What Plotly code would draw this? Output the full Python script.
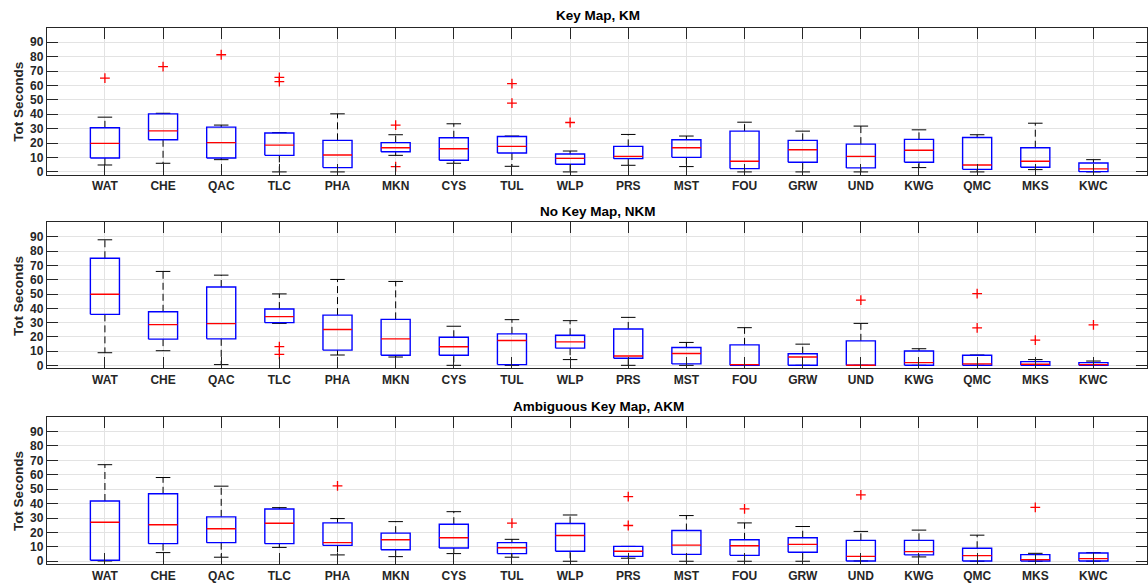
import plotly.graph_objects as go

categories = ["WAT", "CHE", "QAC", "TLC", "PHA", "MKN", "CYS", "TUL", "WLP",
              "PRS", "MST", "FOU", "GRW", "UND", "KWG", "QMC", "MKS", "KWC"]
y_ticks = [0, 10, 20, 30, 40, 50, 60, 70, 80, 90]

# ---- Key Map, KM ----
km_lower = [4.8, 6, 8.5, 0, 0, 11.5, 6, 3.9, 0, 4.6, 3.7, 0, 0, 0, 3, 0, 1.6, 0]
km_q1 = [9.7, 22.3, 9.7, 11.5, 3, 14, 8.1, 13.1, 5.3, 9.2, 10.1, 2.3, 6.7, 2.8, 6.7, 1.8, 3.2, 0.2]
km_med = [19.8, 28.5, 20.3, 18.6, 11.7, 16.8, 16.1, 17.7, 9.4, 10.8, 16.8, 7.4, 15.4, 10.8, 15, 4.8, 7.4, 2.1]
km_q3 = [30.6, 40.3, 31.1, 27, 21.9, 20.3, 23.7, 24.6, 12.4, 17.7, 22.3, 28.3, 21.9, 19.3, 22.6, 23.9, 16.8, 6.2]
km_upper = [38, 40.7, 32.5, 27.3, 40.3, 25.8, 33.4, 24.9, 14.5, 26, 24.9, 34.5, 28.3, 31.8, 29.2, 25.8, 33.8, 8.5]
km_out_cat = ["WAT", "CHE", "QAC", "TLC", "TLC", "MKN", "MKN", "TUL", "TUL", "WLP"]
km_out_val = [65.1, 73, 81.3, 65.6, 62.6, 32.5, 3.7, 61.2, 47.7, 34.3]

# ---- No Key Map, NKM ----
nkm_lower = [9, 10.4, 0.7, 29.5, 7.4, 6, 0.2, 0.2, 4.2, 0.2, 0.2, 0.2, 0.2, 0.2, 0.2, 0.2, 0.2, 0.2]
nkm_q1 = [35.8, 18.5, 18.7, 30, 10.8, 7.2, 7.2, 0.7, 12.2, 5.1, 1.2, 0.2, 0.2, 0.2, 0.2, 0.2, 0.2, 0.2]
nkm_med = [49.8, 28.6, 29.3, 34.2, 25.2, 18.7, 13.2, 17.5, 16.6, 6.7, 8.5, 0.7, 6, 0.2, 2.1, 1.2, 0.9, 0.7]
nkm_q3 = [75, 37.6, 54.9, 39.5, 35.3, 32.3, 19.8, 22.2, 21.2, 25.6, 12.7, 14.5, 8.3, 17.3, 10.2, 7.2, 2.8, 2.1]
nkm_upper = [87.9, 65.8, 63.2, 50.1, 60.2, 58.8, 27.5, 32.1, 31.4, 33.7, 16.2, 26.5, 15, 29.5, 11.8, 7.4, 4.2, 3.2]
nkm_out_cat = ["TLC", "TLC", "UND", "QMC", "QMC", "MKS", "KWC"]
nkm_out_val = [13.2, 7.8, 45.7, 50.3, 26.3, 17.8, 28.4]

# ---- Ambiguous Key Map, AKM ----
akm_lower = [0.2, 6, 2.8, 9.6, 4.4, 3.2, 5.3, 2.8, 0, 2.1, 0, 0, 0, 0.2, 3, 0, 0, 0]
akm_q1 = [0.7, 12.2, 12.9, 12.2, 11, 8, 9.2, 5.3, 6.9, 3.4, 4.8, 4.1, 6.2, 0.2, 4.4, 0.2, 0.2, 0.2]
akm_med = [27.1, 25.3, 22.5, 26.4, 12.9, 14.9, 16.3, 9.4, 17.9, 6.9, 11.2, 10.8, 11.7, 3.4, 6.7, 3.9, 1.1, 1.8]
akm_q3 = [41.8, 46.8, 30.8, 36.3, 26.6, 19.5, 25.7, 12.9, 26.2, 10.3, 21.3, 14.9, 16.3, 14.5, 14.5, 9, 4.6, 5.7]
akm_upper = [67, 58.1, 52.1, 37.2, 29.6, 27.5, 34.4, 15.2, 32.1, 10.3, 31.7, 26.6, 24.1, 20.7, 21.6, 18.1, 5.5, 6]
akm_out_cat = ["PHA", "TUL", "PRS", "PRS", "FOU", "UND", "MKS"]
akm_out_val = [52.3, 26.4, 44.8, 24.8, 36.3, 46.1, 37.4]

panel_titles = ["Key Map, KM", "No Key Map, NKM", "Ambiguous Key Map, AKM"]
y_title = "Tot Seconds"

panels = [
    (km_lower, km_q1, km_med, km_q3, km_upper, km_out_cat, km_out_val),
    (nkm_lower, nkm_q1, nkm_med, nkm_q3, nkm_upper, nkm_out_cat, nkm_out_val),
    (akm_lower, akm_q1, akm_med, akm_q3, akm_upper, akm_out_cat, akm_out_val),
]

# ---- layout geometry (pixels) ----
W, H = 1148, 587
x_left_px = 46.8
px_per_cat = 58.2
x_range = [0, (W - x_left_px) / px_per_cat]
panel_px = [(28, 176), (224, 371), (420, 568)]
title_px = [16, 213, 409]
BOX_HALF = 0.25
CAP_HALF = 0.125

FONT = "Liberation Sans, Arial, Helvetica, sans-serif"
AX_COLOR = "#262626"
GRID_COLOR = "#e3e3e3"

fig = go.Figure()
pos = {c: i + 1 for i, c in enumerate(categories)}

for p, (lo, q1, md, q3, up, oc, ov) in enumerate(panels):
    xa = "x" if p == 0 else f"x{p+1}"
    ya = "y" if p == 0 else f"y{p+1}"
    wx, wy, cx, cy, bx, by, mx, my = [], [], [], [], [], [], [], []
    for i, c in enumerate(categories):
        x = pos[c]
        wx += [x, x, None, x, x, None]
        wy += [q3[i], up[i], None, q1[i], lo[i], None]
        cx += [x - CAP_HALF, x + CAP_HALF, None, x - CAP_HALF, x + CAP_HALF, None]
        cy += [up[i], up[i], None, lo[i], lo[i], None]
        bx += [x - BOX_HALF, x + BOX_HALF, x + BOX_HALF, x - BOX_HALF, x - BOX_HALF, None]
        by += [q1[i], q1[i], q3[i], q3[i], q1[i], None]
        mx += [x - BOX_HALF, x + BOX_HALF, None]
        my += [md[i], md[i], None]
    fig.add_trace(go.Scatter(x=wx, y=wy, mode="lines", xaxis=xa, yaxis=ya,
                             line=dict(color="black", width=1, dash="7px,4px"),
                             hoverinfo="skip", showlegend=False))
    fig.add_trace(go.Scatter(x=cx, y=cy, mode="lines", xaxis=xa, yaxis=ya,
                             line=dict(color="black", width=1),
                             hoverinfo="skip", showlegend=False))
    fig.add_trace(go.Scatter(x=bx, y=by, mode="lines", xaxis=xa, yaxis=ya,
                             line=dict(color="#0000ff", width=1.4),
                             hoverinfo="skip", showlegend=False))
    fig.add_trace(go.Scatter(x=mx, y=my, mode="lines", xaxis=xa, yaxis=ya,
                             line=dict(color="#ff0000", width=1.4),
                             hoverinfo="skip", showlegend=False))
    fig.add_trace(go.Scatter(x=[pos[c] for c in oc], y=ov, mode="markers",
                             xaxis=xa, yaxis=ya,
                             marker=dict(symbol="cross-thin", size=7,
                                         line=dict(color="#ff0000", width=1.3)),
                             hoverinfo="skip", showlegend=False))

layout = dict(
    width=W, height=H,
    margin=dict(l=0, r=0, t=0, b=0),
    paper_bgcolor="white", plot_bgcolor="white",
    font=dict(family=FONT, color=AX_COLOR),
    showlegend=False,
    annotations=[],
)

for p in range(3):
    top, bot = panel_px[p]
    xk = "xaxis" if p == 0 else f"xaxis{p+1}"
    yk = "yaxis" if p == 0 else f"yaxis{p+1}"
    ya = "y" if p == 0 else f"y{p+1}"
    xa = "x" if p == 0 else f"x{p+1}"
    layout[xk] = dict(
        domain=[x_left_px / W, 1], range=x_range, anchor=ya,
        tickmode="array", tickvals=list(range(1, len(categories) + 1)),
        ticktext=categories,
        ticks="inside", ticklen=11, tickwidth=1, tickcolor=AX_COLOR,
        showline=True, linecolor=AX_COLOR, linewidth=1, mirror="ticks",
        showgrid=True, gridcolor=GRID_COLOR, gridwidth=1, zeroline=False,
        tickfont=dict(family=FONT, size=12, color=AX_COLOR, weight="bold"),
        fixedrange=True,
    )
    layout[yk] = dict(
        domain=[1 - bot / H, 1 - top / H], range=[-2, 100], anchor=xa,
        tickmode="array", tickvals=y_ticks, ticktext=[str(v) for v in y_ticks],
        ticks="inside", ticklen=11, tickwidth=1, tickcolor=AX_COLOR,
        showline=True, linecolor=AX_COLOR, linewidth=1, mirror="ticks",
        showgrid=True, gridcolor=GRID_COLOR, gridwidth=1, zeroline=False,
        tickfont=dict(family=FONT, size=12, color=AX_COLOR, weight="bold"),
        fixedrange=True,
    )
    layout["annotations"].append(dict(
        text=panel_titles[p], xref="paper", yref="paper",
        x=599 / W, y=1 - title_px[p] / H, xanchor="center", yanchor="middle",
        showarrow=False,
        font=dict(family=FONT, size=13.5, color="black", weight="bold")))
    layout["annotations"].append(dict(
        text=y_title, xref="paper", yref="paper",
        x=18.5 / W, y=1 - (top + bot) / 2 / H, xanchor="center", yanchor="middle",
        textangle=-90, showarrow=False,
        font=dict(family=FONT, size=13.5, color=AX_COLOR, weight="bold")))

fig.update_layout(**layout)
fig.write_html(
    "out.html",
    config={"displayModeBar": False},
    post_script="document.body.style.margin='0';document.body.style.overflow='hidden';",
)
